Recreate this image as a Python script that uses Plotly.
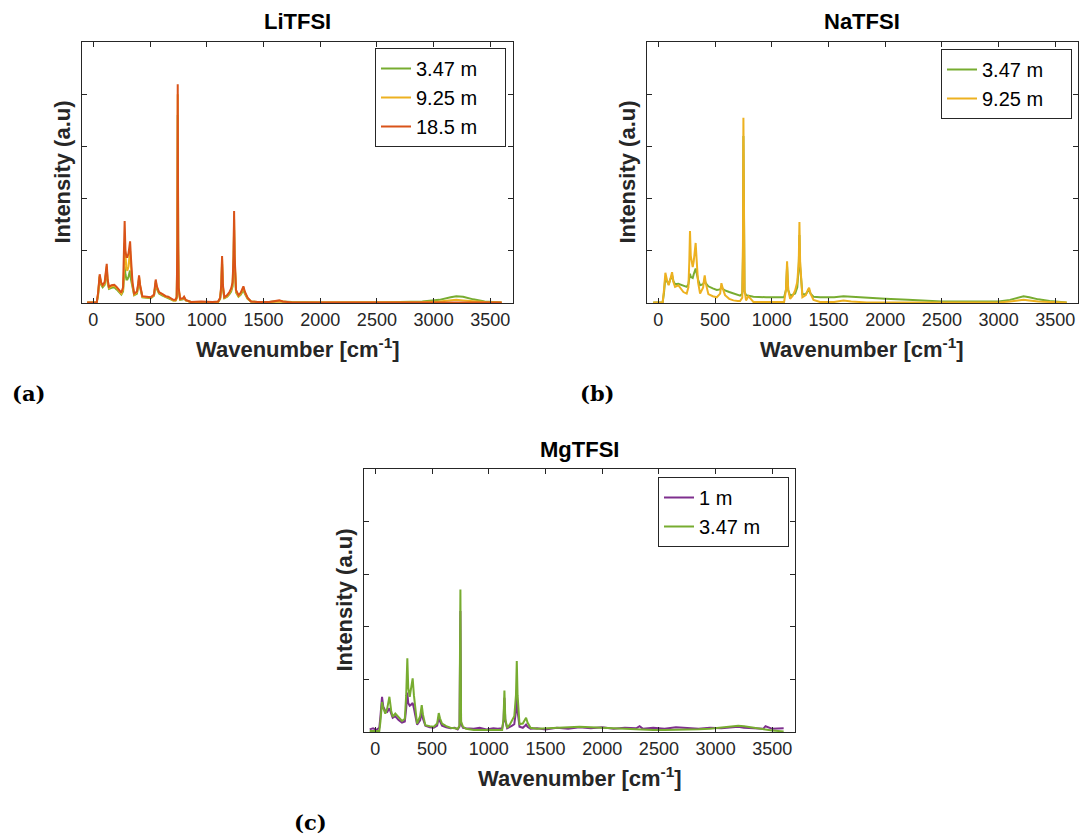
import plotly.graph_objects as go

W, H = 1083, 838

# ---------------- data ----------------
# Panel (a) LiTFSI
li_wn = [
    -55, 30, 42, 56, 68, 82, 100, 110, 118, 126,
    138, 160, 185, 205, 226, 247, 262, 270, 276, 283,
    292, 300, 310, 318, 324, 332, 345, 360, 385, 396,
    403, 412, 432, 470, 506, 535, 545, 550, 560, 579,
    610, 638, 660, 682, 705, 725, 735, 741, 744, 748,
    752, 765, 790, 800, 815, 860, 950, 1050, 1100, 1118,
    1128, 1135, 1142, 1155, 1180, 1200, 1215, 1228, 1236, 1241,
    1246, 1258, 1280, 1300, 1315, 1323, 1335, 1360, 1390, 1450,
    1550, 1620, 1640, 1670, 1750, 2000, 2500, 2900, 3050, 3150,
    3200, 3260, 3350, 3450, 3600]
li_185 = [
    0.01, 0.01, 0.20, 0.55, 0.40, 0.34, 0.40, 0.55, 0.75, 0.45,
    0.31, 0.34, 0.35, 0.31, 0.25, 0.20, 0.30, 0.80, 1.57, 1.00,
    0.88, 0.88, 0.95, 1.08, 1.18, 0.85, 0.40, 0.18, 0.22, 0.38,
    0.53, 0.35, 0.13, 0.12, 0.11, 0.16, 0.38, 0.45, 0.32, 0.21,
    0.17, 0.13, 0.12, 0.09, 0.06, 0.06, 0.12, 1.20, 4.19, 1.20,
    0.30, 0.08, 0.09, 0.12, 0.06, 0.02, 0.03, 0.02, 0.03, 0.10,
    0.35, 0.90, 0.35, 0.11, 0.15, 0.21, 0.28, 0.40, 0.90, 1.76,
    0.90, 0.25, 0.15, 0.20, 0.30, 0.32, 0.22, 0.10, 0.03, 0.02,
    0.02, 0.04, 0.05, 0.03, 0.01, 0.01, 0.01, 0.01, 0.01, 0.02,
    0.02, 0.02, 0.01, 0.01, 0.01]
li_925 = [
    0.01, 0.01, 0.18, 0.52, 0.38, 0.32, 0.38, 0.52, 0.70, 0.42,
    0.29, 0.32, 0.33, 0.29, 0.23, 0.18, 0.26, 0.60, 1.15, 0.80,
    0.65, 0.62, 0.70, 0.88, 1.00, 0.70, 0.35, 0.16, 0.20, 0.36,
    0.50, 0.33, 0.12, 0.11, 0.10, 0.15, 0.35, 0.42, 0.30, 0.20,
    0.16, 0.12, 0.11, 0.08, 0.05, 0.05, 0.10, 1.10, 4.00, 1.10,
    0.28, 0.07, 0.08, 0.11, 0.05, 0.02, 0.02, 0.02, 0.02, 0.09,
    0.32, 0.85, 0.32, 0.10, 0.13, 0.19, 0.25, 0.36, 0.85, 1.60,
    0.85, 0.22, 0.13, 0.18, 0.27, 0.30, 0.20, 0.09, 0.03, 0.02,
    0.02, 0.03, 0.04, 0.03, 0.01, 0.01, 0.01, 0.02, 0.03, 0.05,
    0.06, 0.05, 0.03, 0.02, 0.01]
li_347 = [
    0.01, 0.01, 0.15, 0.50, 0.35, 0.30, 0.35, 0.48, 0.65, 0.38,
    0.27, 0.29, 0.30, 0.26, 0.20, 0.16, 0.22, 0.45, 0.70, 0.55,
    0.45, 0.45, 0.50, 0.58, 0.62, 0.45, 0.28, 0.15, 0.18, 0.33,
    0.45, 0.30, 0.11, 0.10, 0.09, 0.14, 0.32, 0.38, 0.27, 0.18,
    0.14, 0.11, 0.10, 0.07, 0.05, 0.05, 0.09, 1.00, 3.60, 1.00,
    0.25, 0.06, 0.07, 0.10, 0.05, 0.02, 0.02, 0.02, 0.02, 0.08,
    0.28, 0.75, 0.28, 0.09, 0.12, 0.17, 0.22, 0.32, 0.75, 1.40,
    0.75, 0.20, 0.12, 0.16, 0.24, 0.25, 0.18, 0.08, 0.03, 0.02,
    0.02, 0.04, 0.04, 0.03, 0.02, 0.01, 0.01, 0.03, 0.06, 0.11,
    0.13, 0.12, 0.07, 0.03, 0.01]

# Panel (b) NaTFSI
na_wn = [
    -45, 38, 50, 62, 75, 91, 105, 121, 133, 147,
    176, 221, 250, 265, 273, 279, 286, 295, 303, 312,
    322, 329, 337, 350, 368, 395, 403, 409, 418, 441,
    480, 515, 545, 556, 568, 588, 625, 662, 700, 721,
    740, 746, 750, 754, 760, 773, 794, 838, 950, 1050,
    1109, 1125, 1135, 1145, 1162, 1185, 1206, 1225, 1238, 1244,
    1250, 1270, 1300, 1320, 1329, 1342, 1368, 1426, 1550, 1632,
    1700, 1838, 2000, 2200, 2500, 2800, 3000, 3100, 3170, 3220,
    3270, 3350, 3450, 3600]
na_925 = [
    0.01, 0.01, 0.25, 0.58, 0.45, 0.34, 0.45, 0.59, 0.40, 0.31,
    0.34, 0.21, 0.18, 0.30, 0.80, 1.38, 0.90, 0.72, 0.69, 0.80,
    1.00, 1.15, 0.85, 0.40, 0.18, 0.30, 0.45, 0.53, 0.38, 0.17,
    0.13, 0.11, 0.18, 0.38, 0.28, 0.15, 0.08, 0.05, 0.04, 0.04,
    0.10, 1.10, 3.55, 1.10, 0.25, 0.05, 0.13, 0.02, 0.02, 0.02,
    0.02, 0.25, 0.80, 0.25, 0.08, 0.14, 0.24, 0.40, 0.80, 1.55,
    0.80, 0.11, 0.15, 0.26, 0.29, 0.18, 0.06, 0.02, 0.02, 0.05,
    0.03, 0.01, 0.01, 0.01, 0.01, 0.01, 0.01, 0.03, 0.05, 0.06,
    0.05, 0.03, 0.02, 0.01]
na_347 = [
    0.01, 0.01, 0.20, 0.50, 0.42, 0.36, 0.45, 0.53, 0.42, 0.36,
    0.37, 0.33, 0.31, 0.36, 0.48, 0.56, 0.50, 0.48, 0.48, 0.55,
    0.62, 0.66, 0.58, 0.45, 0.34, 0.36, 0.40, 0.43, 0.38, 0.32,
    0.28, 0.25, 0.26, 0.31, 0.27, 0.24, 0.21, 0.18, 0.15, 0.14,
    0.18, 0.90, 3.20, 0.90, 0.22, 0.15, 0.14, 0.12, 0.11, 0.11,
    0.11, 0.25, 0.70, 0.25, 0.14, 0.16, 0.18, 0.30, 0.70, 1.30,
    0.70, 0.17, 0.17, 0.23, 0.25, 0.18, 0.12, 0.11, 0.11, 0.13,
    0.12, 0.10, 0.08, 0.06, 0.03, 0.03, 0.03, 0.06, 0.10, 0.13,
    0.11, 0.07, 0.04, 0.01]

# Panel (c) MgTFSI
mg_wn = [
    -50, -20, 10, 35, 45, 59, 70, 88, 105, 124,
    140, 153, 176, 205, 235, 260, 272, 282, 290, 303,
    315, 329, 340, 368, 395, 409, 420, 441, 480, 515,
    545, 559, 570, 588, 625, 662, 700, 726, 742, 750,
    756, 773, 800, 868, 920, 980, 1040, 1080, 1118, 1130,
    1138, 1146, 1162, 1185, 1206, 1225, 1240, 1247, 1254, 1271,
    1300, 1320, 1329, 1342, 1368, 1426, 1500, 1600, 1700, 1800,
    1900, 2000, 2100, 2200, 2300, 2330, 2360, 2450, 2550, 2650,
    2750, 2850, 2950, 3050, 3150, 3200, 3250, 3350, 3420, 3440,
    3500, 3600]
mg_1 = [
    0.05, 0.07, 0.04, 0.08, 0.30, 0.67, 0.48, 0.40, 0.38, 0.45,
    0.35, 0.27, 0.30, 0.23, 0.18, 0.20, 0.45, 0.75, 0.55, 0.50,
    0.52, 0.55, 0.45, 0.14, 0.22, 0.38, 0.25, 0.12, 0.09, 0.08,
    0.12, 0.28, 0.20, 0.12, 0.09, 0.07, 0.08, 0.05, 0.10, 2.30,
    0.15, 0.08, 0.07, 0.06, 0.08, 0.05, 0.07, 0.06, 0.07, 0.20,
    0.65, 0.22, 0.07, 0.09, 0.12, 0.15, 0.40, 0.80, 0.40, 0.10,
    0.08, 0.12, 0.14, 0.10, 0.06, 0.07, 0.05, 0.08, 0.06, 0.09,
    0.07, 0.09, 0.06, 0.08, 0.07, 0.11, 0.06, 0.08, 0.06, 0.09,
    0.07, 0.06, 0.08, 0.07, 0.09, 0.10, 0.08, 0.07, 0.06, 0.11,
    0.06, 0.07]
mg_347 = [
    0.02, 0.02, 0.02, 0.02, 0.20, 0.57, 0.45, 0.35, 0.45, 0.67,
    0.40, 0.29, 0.35, 0.27, 0.21, 0.25, 0.70, 1.40, 0.85, 0.67,
    0.85, 1.02, 0.70, 0.16, 0.30, 0.51, 0.33, 0.13, 0.11, 0.10,
    0.16, 0.36, 0.26, 0.16, 0.11, 0.08, 0.07, 0.06, 0.12, 2.71,
    0.20, 0.10, 0.06, 0.04, 0.04, 0.04, 0.04, 0.04, 0.04, 0.25,
    0.79, 0.25, 0.08, 0.14, 0.22, 0.30, 0.70, 1.35, 0.70, 0.15,
    0.16, 0.25, 0.27, 0.18, 0.08, 0.06, 0.07, 0.08, 0.10, 0.10,
    0.09, 0.08, 0.08, 0.07, 0.06, 0.05, 0.05, 0.04, 0.04, 0.04,
    0.04, 0.05, 0.06, 0.08, 0.11, 0.12, 0.11, 0.08, 0.05, 0.04,
    0.03, 0.01]

x_ticks = [0, 500, 1000, 1500, 2000, 2500, 3000, 3500]
panel_titles = ["LiTFSI", "NaTFSI", "MgTFSI"]
panel_tags = ["(a)", "(b)", "(c)"]

GREEN, YELLOW, ORANGE, PURPLE = "#77AC30", "#EDB120", "#D95319", "#7E2F8E"

# ---------------- layout geometry (pixels) ----------------
boxes = {  # left, top, right, bottom
    1: (82, 42, 513, 303),
    2: (647, 42, 1078, 303),
    3: (364, 469, 795, 732),
}

def px(x):
    return x / W

def py(y):
    return 1 - y / H

fig = go.Figure()

PAD = "\u00a0" * 4  # widen legend box to match reference
series = [
    (1, li_wn, li_347, "3.47 m", GREEN),
    (1, li_wn, li_925, "9.25 m", YELLOW),
    (1, li_wn, li_185, "18.5 m", ORANGE),
    (2, na_wn, na_347, "3.47 m", GREEN),
    (2, na_wn, na_925, "9.25 m", YELLOW),
    (3, mg_wn, mg_1, "1 m", PURPLE),
    (3, mg_wn, mg_347, "3.47 m", GREEN),
]
for k, xs, ys, name, col in series:
    sfx = "" if k == 1 else str(k)
    fig.add_trace(go.Scatter(
        x=xs, y=ys, mode="lines", name=name + PAD,
        line=dict(color=col, width=2),
        xaxis="x" + sfx, yaxis="y" + sfx, legend="legend" + sfx,
    ))

FONT = "Liberation Sans, Arial, Helvetica, sans-serif"
axis_common = dict(
    showline=True, linecolor="#262626", linewidth=1, mirror="ticks",
    ticks="inside", ticklen=5, tickwidth=1, tickcolor="#262626",
    showgrid=False, zeroline=False,
    tickfont=dict(family=FONT, size=18, color="#262626"),
)

layout = dict(
    width=W, height=H, margin=dict(l=0, r=0, t=0, b=0),
    paper_bgcolor="white", plot_bgcolor="white",
    font=dict(family=FONT, color="#262626"),
)
annotations = []
legend_boxes = {1: (375, 48), 2: (941, 49), 3: (658, 477)}
tag_pos = {1: (28, 393), 2: (597, 393), 3: (310, 822)}

for k, (l, t, r, b) in boxes.items():
    sfx = "" if k == 1 else str(k)
    layout["xaxis" + sfx] = dict(
        axis_common, domain=[px(l), px(r)], range=[-100, 3700],
        tickvals=x_ticks, anchor="y" + sfx,
    )
    layout["yaxis" + sfx] = dict(
        axis_common, domain=[py(b), py(t)], range=[0, 5], dtick=1,
        showticklabels=False, anchor="x" + sfx,
    )
    lx, ly = legend_boxes[k]
    layout["legend" + sfx] = dict(
        x=px(lx), y=py(ly), xanchor="left", yanchor="top",
        xref="paper", yref="paper",
        bordercolor="#262626", borderwidth=1, bgcolor="white",
        font=dict(family=FONT, size=20, color="black"),
    )
    cx = (l + r) / 2
    cy = (t + b) / 2
    annotations.append(dict(
        text="<b>%s</b>" % panel_titles[k - 1], x=px(cx), y=py(t - 20),
        xref="paper", yref="paper", showarrow=False,
        xanchor="center", yanchor="middle",
        font=dict(family=FONT, size=22, color="black"),
    ))
    annotations.append(dict(
        text="<b>Wavenumber [cm<sup>-1</sup>]</b>", x=px(cx), y=py(b + 45),
        xref="paper", yref="paper", showarrow=False,
        xanchor="center", yanchor="middle",
        font=dict(family=FONT, size=22, color="#262626"),
    ))
    annotations.append(dict(
        text="<b>Intensity (a.u)</b>", x=px(l - 20), y=py(cy),
        xref="paper", yref="paper", showarrow=False, textangle=-90,
        xanchor="center", yanchor="middle",
        font=dict(family=FONT, size=22, color="#262626"),
    ))
    tx, ty = tag_pos[k]
    annotations.append(dict(
        text="<b>%s</b>" % panel_tags[k - 1], x=px(tx), y=py(ty),
        xref="paper", yref="paper", showarrow=False,
        xanchor="center", yanchor="middle",
        font=dict(family="DejaVu Serif, serif", size=21, color="black"),
    ))

layout["annotations"] = annotations
fig.update_layout(**layout)
fig.write_html("out.html")
